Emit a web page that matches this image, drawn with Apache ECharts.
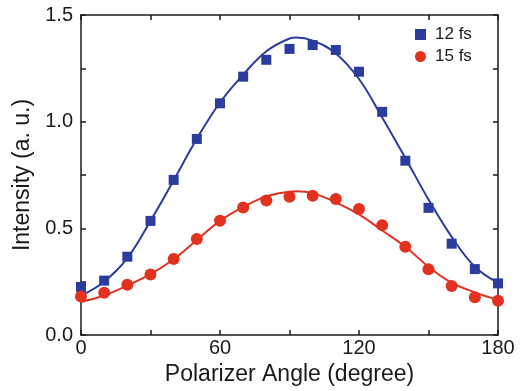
<!DOCTYPE html>
<html>
<head>
<meta charset="utf-8">
<script src="https://cdn.jsdelivr.net/npm/echarts@6/dist/echarts.min.js"></script>
<style>
html,body{margin:0;padding:0;background:#fff;}
#chart{width:521px;height:391px;}
</style>
</head>
<body>
<div id="chart"></div>
<script>
// Measured points (polarizer angle in degree)
var angles = [0,10,20,30,40,50,60,70,80,90,100,110,120,130,140,150,160,170,180];
var intensity12fs = [0.225,0.255,0.367,0.535,0.727,0.919,1.086,1.211,1.290,1.341,1.359,1.336,1.234,1.046,0.817,0.596,0.428,0.309,0.242];
var intensity15fs = [0.180,0.198,0.235,0.284,0.356,0.450,0.535,0.598,0.630,0.648,0.653,0.638,0.591,0.514,0.414,0.308,0.230,0.177,0.161];

// Fit curves
var fitAngles = [0,10,20,30,40,50,60,70,80,90,93,100,110,120,130,140,150,160,170,180];
var fit12fs = [0.185,0.250,0.360,0.535,0.725,0.920,1.090,1.220,1.330,1.390,1.395,1.380,1.320,1.200,1.020,0.830,0.635,0.460,0.320,0.245];
var fit15fs = [0.155,0.185,0.232,0.285,0.355,0.445,0.535,0.600,0.650,0.672,0.674,0.665,0.622,0.565,0.490,0.414,0.320,0.245,0.200,0.164];

var xTickLabels = ['0','60','120','180'];
var yTickLabels = ['0.0','0.5','1.0','1.5'];
var seriesNames = ['12 fs','15 fs'];

var BLUE = '#2b3c9e';
var RED = '#e2321f';
var AX = '#1a1a1a';

function zip(xs, ys){ return xs.map(function(x,i){ return [x, ys[i]]; }); }

var chart = echarts.init(document.getElementById('chart'), null, {renderer:'canvas'});

var axisCommon = {
  axisLine:{show:true, onZero:false, lineStyle:{color:AX, width:1.5}},
  axisTick:{show:true, inside:true, length:5, lineStyle:{color:AX, width:1.5}},
  splitLine:{show:false}
};

function xLabel(v){
  var s = String(Math.round(v));
  return xTickLabels.indexOf(s) >= 0 ? s : '';
}
function yLabel(v){
  var s = v.toFixed(1);
  return (Math.abs(v*2 - Math.round(v*2)) < 1e-6 && yTickLabels.indexOf(s) >= 0) ? s : '';
}

var option = {
  backgroundColor:'#fff',
  animation:false,
  grid:{left:81, right:23, top:15, bottom:56, containLabel:false},
  legend:{
    orient:'vertical', left:410, top:21,
    itemWidth:11, itemHeight:11, itemGap:5,
    textStyle:{fontFamily:'Liberation Sans, Arial, sans-serif', fontSize:17, color:'#1a1a1a', padding:[0,0,0,4]},
    data:[{name:seriesNames[0], icon:'rect'},{name:seriesNames[1], icon:'circle'}]
  },
  xAxis:[
    Object.assign({
      type:'value', position:'bottom', min:0, max:180, interval:30,
      name:'Polarizer Angle (degree)', nameLocation:'middle', nameGap:27,
      nameTextStyle:{fontFamily:'Liberation Sans, Arial, sans-serif', fontSize:23, color:'#1a1a1a'},
      axisLabel:{show:true, margin:3, fontFamily:'Liberation Sans, Arial, sans-serif', fontSize:20, color:'#1a1a1a', formatter:xLabel, showMinLabel:true, showMaxLabel:true}
    }, axisCommon),
    Object.assign({
      type:'value', position:'top', min:0, max:180, interval:30,
      axisLabel:{show:false}
    }, axisCommon)
  ],
  yAxis:[
    Object.assign({
      type:'value', position:'left', min:0, max:1.5, interval:0.25,
      name:'Intensity (a. u.)', nameLocation:'middle', nameGap:46,
      nameTextStyle:{fontFamily:'Liberation Sans, Arial, sans-serif', fontSize:23, color:'#1a1a1a'},
      axisLabel:{show:true, margin:8, fontFamily:'Liberation Sans, Arial, sans-serif', fontSize:20, color:'#1a1a1a', formatter:yLabel, showMinLabel:true, showMaxLabel:true}
    }, axisCommon),
    Object.assign({
      type:'value', position:'right', min:0, max:1.5, interval:0.25,
      axisLabel:{show:false}
    }, axisCommon)
  ],
  series:[
    {name:'fit12', type:'line', data:zip(fitAngles, fit12fs), smooth:0.4, showSymbol:false, symbol:'none',
     lineStyle:{color:BLUE, width:2}, z:3, silent:true},
    {name:'fit15', type:'line', data:zip(fitAngles, fit15fs), smooth:0.4, showSymbol:false, symbol:'none',
     lineStyle:{color:RED, width:2}, z:3, silent:true},
    {name:seriesNames[0], type:'scatter', data:zip(angles, intensity12fs), symbol:'rect', symbolSize:10,
     itemStyle:{color:BLUE, opacity:1}, z:4},
    {name:seriesNames[1], type:'scatter', data:zip(angles, intensity15fs), symbol:'circle', symbolSize:12,
     itemStyle:{color:RED, opacity:1}, z:4}
  ]
};
chart.setOption(option);
</script>
</body>
</html>
